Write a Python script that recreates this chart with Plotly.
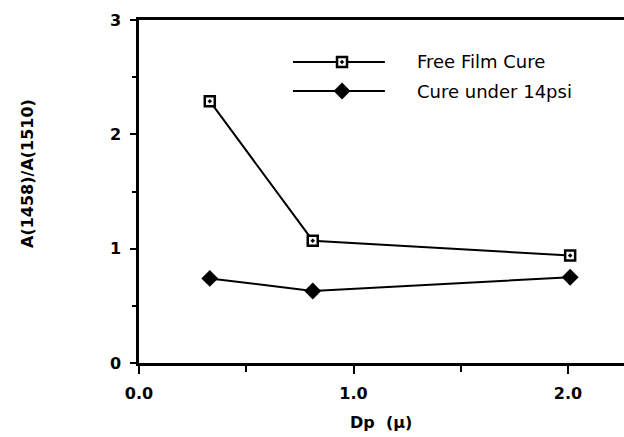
import plotly.graph_objects as go

# ---- data ----
dp = [0.33, 0.81, 2.01]
free_film = [2.29, 1.07, 0.94]
cure_14psi = [0.74, 0.63, 0.75]
series_names = ["Free Film Cure", "Cure under 14psi"]
x_tickvals = [0, 1, 2]
x_ticktext = ["0.0", "1.0", "2.0"]
y_tickvals = [0, 1, 2, 3]
y_ticktext = ["0", "1", "2", "3"]

W, H = 624, 437
ML, MR, MT, MB = 139, 0, 20, 74
px_per_unit = 214.5
x_max = (W - ML - MR) / px_per_unit

BOLD = "DejaVu Sans"
fig = go.Figure()

fig.add_trace(go.Scatter(
    x=dp, y=free_film, mode="lines+markers", name=series_names[0],
    line=dict(color="black", width=2),
    marker=dict(symbol="square-dot", size=10, color="white",
                line=dict(color="black", width=2.5)),
    showlegend=False))
fig.add_trace(go.Scatter(
    x=dp, y=cure_14psi, mode="lines+markers", name=series_names[1],
    line=dict(color="black", width=2),
    marker=dict(symbol="diamond", size=13, color="black",
                line=dict(color="black", width=0)),
    showlegend=False))

# ---- hand-made legend on a hidden overlay axis (0..1 of the plot area) ----
leg_y = [0.8776, 0.793]
leg_x0, leg_x1, leg_xm, leg_xt = 0.3175, 0.507, 0.4186, 0.569
leg_markers = [
    dict(symbol="square-dot", size=10, color="white", line=dict(color="black", width=2.5)),
    dict(symbol="diamond", size=13, color="black", line=dict(color="black", width=0)),
]
for i in range(2):
    fig.add_trace(go.Scatter(
        x=[leg_x0, leg_x1], y=[leg_y[i], leg_y[i]], mode="lines",
        line=dict(color="black", width=2), xaxis="x2", yaxis="y2",
        showlegend=False, hoverinfo="skip"))
    fig.add_trace(go.Scatter(
        x=[leg_xm], y=[leg_y[i]], mode="markers", marker=leg_markers[i],
        xaxis="x2", yaxis="y2", showlegend=False, hoverinfo="skip"))
    fig.add_annotation(
        x=leg_xt, y=leg_y[i], xref="paper", yref="paper", text=series_names[i],
        showarrow=False, xanchor="left", yanchor="middle",
        font=dict(family="DejaVu Sans", size=18, color="black"))

fig.update_layout(
    width=W, height=H,
    margin=dict(l=ML, r=MR, t=MT, b=MB, pad=0),
    paper_bgcolor="white", plot_bgcolor="white",
    showlegend=False,
    xaxis=dict(
        range=[0, x_max], showgrid=False, zeroline=False,
        showline=True, linecolor="black", linewidth=2.5, mirror=True,
        tickmode="array", tickvals=x_tickvals, ticktext=x_ticktext,
        ticks="outside", ticklen=8, tickwidth=2, tickcolor="black",
        ticklabelstandoff=6,
        tickfont=dict(family=BOLD, size=16, color="black", weight="bold"),
        minor=dict(dtick=0.5, tick0=0, ticks="outside", ticklen=6,
                   tickwidth=2, tickcolor="black", showgrid=False),
    ),
    yaxis=dict(
        range=[0, 3], showgrid=False, zeroline=False,
        showline=True, linecolor="black", linewidth=2.5, mirror=False,
        tickmode="array", tickvals=y_tickvals, ticktext=y_ticktext,
        ticks="outside", ticklen=6, tickwidth=2, tickcolor="black",
        ticklabelstandoff=6,
        tickfont=dict(family=BOLD, size=16, color="black", weight="bold"),
        minor=dict(dtick=0.5, tick0=0, ticks="outside", ticklen=4,
                   tickwidth=2, tickcolor="black", showgrid=False),
    ),
    xaxis2=dict(overlaying="x", range=[0, 1], visible=False),
    yaxis2=dict(overlaying="y", range=[0, 1], visible=False),
)

fig.add_annotation(
    x=(27 - ML) / (W - ML - MR), y=(363 - 174) / (363 - MT),
    xref="paper", yref="paper", text="A(1458)/A(1510)", textangle=-90,
    showarrow=False, xanchor="center", yanchor="middle",
    font=dict(family=BOLD, size=16, color="black", weight="bold"))
fig.add_annotation(
    x=(381 - ML) / (W - ML - MR), y=(363 - 423) / (363 - MT),
    xref="paper", yref="paper", text="Dp\u00a0\u00a0(\u03bc)",
    showarrow=False, xanchor="center", yanchor="middle",
    font=dict(family=BOLD, size=16, color="black", weight="bold"))

fig.write_html("out.html")
